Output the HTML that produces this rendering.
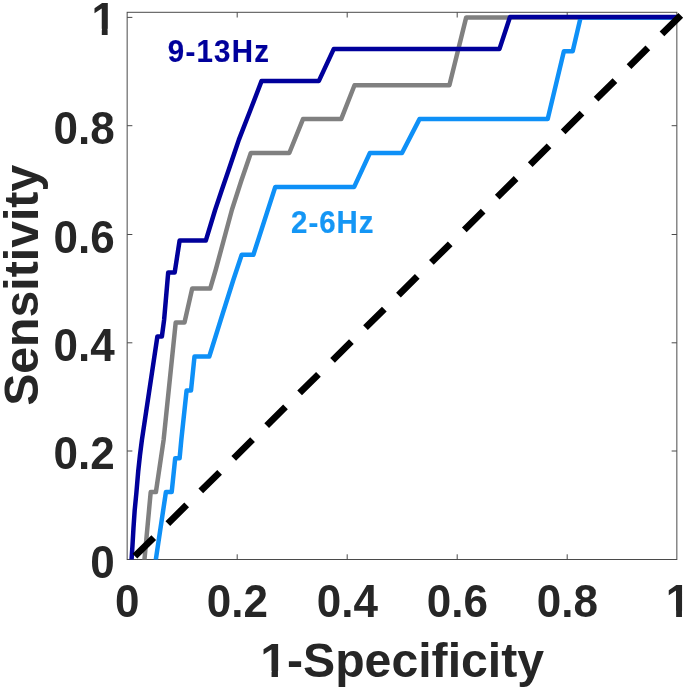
<!DOCTYPE html>
<html lang="en">
<head>
<meta charset="utf-8">
<title>ROC curves</title>
<style>
html,body{margin:0;padding:0;background:#fff;}
body{width:685px;height:691px;overflow:hidden;}
svg{display:block;will-change:transform;}
text{font-family:"Liberation Sans",sans-serif;font-weight:bold;}
.tick text{font-size:44px;fill:#262626;}
.lab{font-size:48.2px;fill:#262626;}
.cl{font-size:30.5px;}
</style>
</head>
<body>
<svg width="685" height="691" viewBox="0 0 685 691">
<defs><clipPath id="ax"><rect x="127.15" y="12.3" width="549.7" height="547.2"/></clipPath>
<clipPath id="oneM"><path clip-rule="evenodd" d="M-60,-60H700V30H-60Z M-14.23,-5.69H-1.87V3H-14.23Z M3.97,-5.69H14.24V3H3.97Z"/></clipPath>
<clipPath id="oneE"><path clip-rule="evenodd" d="M-60,-60H700V30H-60Z M-26.47,-5.69H-14.10V3H-26.47Z M-8.26,-5.69H2.00V3H-8.26Z"/></clipPath>
<clipPath id="oneS"><path clip-rule="evenodd" d="M-60,-60H700V30H-60Z M-2.00,-6.12H11.35V3H-2.00Z M17.76,-6.12H28.81V3H17.76Z"/></clipPath>
</defs>
<rect x="0" y="0" width="685" height="691" fill="#ffffff"/>
<g stroke="#4a4a4a" stroke-width="1" fill="none">
<rect x="127.15" y="12.3" width="549.7" height="547.2"/>
<line x1="237.2" y1="559.5" x2="237.2" y2="554.3"/>
<line x1="237.2" y1="12.3" x2="237.2" y2="17.5"/>
<line x1="347.2" y1="559.5" x2="347.2" y2="554.3"/>
<line x1="347.2" y1="12.3" x2="347.2" y2="17.5"/>
<line x1="457.2" y1="559.5" x2="457.2" y2="554.3"/>
<line x1="457.2" y1="12.3" x2="457.2" y2="17.5"/>
<line x1="567.2" y1="559.5" x2="567.2" y2="554.3"/>
<line x1="567.2" y1="12.3" x2="567.2" y2="17.5"/>
<line x1="127.15" y1="451.0" x2="132.35" y2="451.0"/>
<line x1="676.85" y1="451.0" x2="671.65" y2="451.0"/>
<line x1="127.15" y1="342.8" x2="132.35" y2="342.8"/>
<line x1="676.85" y1="342.8" x2="671.65" y2="342.8"/>
<line x1="127.15" y1="234.5" x2="132.35" y2="234.5"/>
<line x1="676.85" y1="234.5" x2="671.65" y2="234.5"/>
<line x1="127.15" y1="125.7" x2="132.35" y2="125.7"/>
<line x1="676.85" y1="125.7" x2="671.65" y2="125.7"/>
<line x1="127.15" y1="17.4" x2="132.35" y2="17.4"/>
<line x1="676.85" y1="17.4" x2="671.65" y2="17.4"/>
</g>
<g fill="none" stroke-linejoin="round" stroke-linecap="butt" clip-path="url(#ax)">
<polyline points="143.0,575.0 144.5,559.1 150.7,492.1 155.9,492.1 163.6,440.0 175.7,322.6 184.5,322.6 192.2,288.6 210.2,288.6 215.8,269.5 232.0,209.5 241.2,181.0 250.8,153.0 289.3,153.0 303.0,119.1 341.2,119.1 354.5,85.2 449.4,85.2 466.2,17.4 677.4,17.4" stroke="#808080" stroke-width="4.5"/>
<polyline points="153.5,575.0 155.9,559.1 165.9,492.1 171.7,492.1 175.2,458.2 179.6,458.2 181.3,440.0 186.6,390.4 191.0,390.4 194.5,356.5 209.3,356.5 220.7,320.0 233.3,280.0 241.7,254.7 253.4,254.7 275.3,186.9 354.2,186.9 369.9,153.0 402.0,153.0 419.5,119.1 547.7,119.1 563.9,51.3 572.7,51.3 580.6,17.4 677.4,17.4" stroke="#0e90f7" stroke-width="4.5"/>
<polyline points="131.2,575.0 131.6,559.1 132.5,545.1 133.5,527.6 134.7,510.1 136.4,492.6 138.2,471.5 139.9,455.8 141.9,440.0 157.4,336.4 161.9,336.4 164.1,320.0 168.2,272.5 174.7,272.5 179.6,240.6 205.8,240.6 215.1,210.0 221.8,190.0 228.3,171.1 235.4,150.0 238.9,139.6 251.2,108.0 261.6,80.9 318.9,80.9 333.8,48.9 499.5,48.9 510.0,17.0 677.4,17.0" stroke="#00009b" stroke-width="4.5"/>
</g>
<line x1="680.8" y1="15.30" x2="134.9" y2="556.20" stroke="#000" stroke-width="6.7" stroke-dasharray="26.5 19.874"/>
<g class="tick">
<text transform="translate(127.3 616.6) scale(1 1.04)" text-anchor="middle">0</text>
<text transform="translate(237.3 616.6) scale(1 1.04)" text-anchor="middle">0.2</text>
<text transform="translate(347.3 616.6) scale(1 1.04)" text-anchor="middle">0.4</text>
<text transform="translate(457.4 616.6) scale(1 1.04)" text-anchor="middle">0.6</text>
<text transform="translate(567.4 616.6) scale(1 1.04)" text-anchor="middle">0.8</text>
<text transform="translate(678.0 616.5) scale(1 1.05)" text-anchor="middle" clip-path="url(#oneM)">1</text>
<text transform="translate(114.6 577.8) scale(1 1.04)" text-anchor="end">0</text>
<text transform="translate(114.6 469.4) scale(1 1.04)" text-anchor="end">0.2</text>
<text transform="translate(114.6 361.0) scale(1 1.04)" text-anchor="end">0.4</text>
<text transform="translate(114.6 252.7) scale(1 1.04)" text-anchor="end">0.6</text>
<text transform="translate(114.6 144.3) scale(1 1.04)" text-anchor="end">0.8</text>
<text transform="translate(115.9 34.6) scale(1 1.045)" text-anchor="end" clip-path="url(#oneE)">1</text>
</g>
<text class="lab" transform="translate(260.2 676.8)" clip-path="url(#oneS)">1-Specificity</text>
<text class="lab" transform="translate(37.6 285.3) rotate(-90)" text-anchor="middle">Sensitivity</text>
<text class="cl" transform="translate(167.8 61.7) scale(0.965 1)" letter-spacing="1.3" fill="#00009b" stroke="#00009b" stroke-width="0.2">9-13Hz</text>
<text class="cl" transform="translate(291.0 233.3) scale(0.965 1)" letter-spacing="1.05" fill="#1496f5" stroke="#1496f5" stroke-width="0.2">2-6Hz</text>
</svg>
</body>
</html>
